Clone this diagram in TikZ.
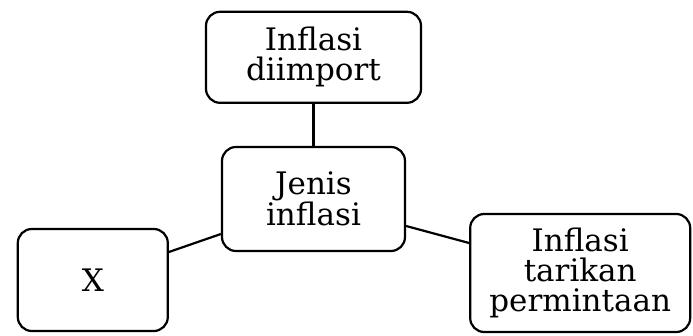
\documentclass[tikz,border=0pt]{standalone}
\usepackage{fontspec}
\setmainfont{DejaVu Serif}
\usepackage{tikz}
\usetikzlibrary{positioning}

\begin{document}
\begin{tikzpicture}[x=1pt, y=1pt,
    every node/.style = {draw, rectangle, rounded corners=14pt, line width=2.2pt,
      align=center, font=\fontsize{31}{30}\selectfont}
    ]
    \useasboundingbox (0,0) rectangle (693,335);
    \node[minimum width=183pt, minimum height=104pt] (jenis) at (313.5,136) {Jenis\\inflasi};
    \node[minimum width=215pt, minimum height=91pt] (impor) [above=42pt of jenis] {Inflasi\\diimport};
    \node[minimum width=150pt, minimum height=102pt] (x) [left=52pt of jenis, yshift=-81pt] {X};
    \node[minimum width=220pt, minimum height=118pt, inner sep=2pt] (tarikan) [right=63pt of jenis, yshift=-74pt] {Inflasi\\tarikan\\permintaan};

    \draw[line width=2.2pt] (impor) -- (jenis);
    \draw[line width=2.2pt] ([yshift=28pt]x.east) -- ([yshift=-35pt]jenis.west);
    \draw[line width=2.2pt] ([yshift=-27pt]jenis.east) -- ([yshift=30pt]tarikan.west);
\end{tikzpicture}
\end{document}
